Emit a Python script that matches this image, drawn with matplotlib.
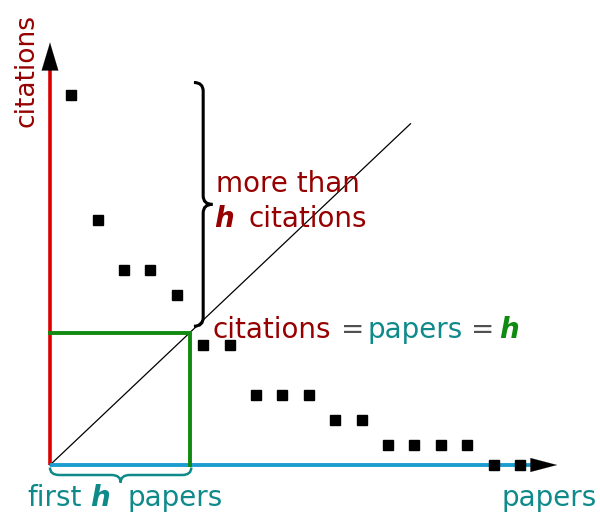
import numpy as np
import matplotlib
matplotlib.use("Agg")
import matplotlib.pyplot as plt
from matplotlib.path import Path
from matplotlib.patches import PathPatch

# ---- data (schematic h-index example) ----
paper_rank = list(range(1, 19))
citations = [15, 10, 8, 8, 7, 5, 5, 3, 3, 3, 2, 2, 1, 1, 1, 1, 0, 0]
h_value = 5
h_corner = 5.5          # where the diagonal crosses the sorted citation curve
axis_origin = 0.2       # axes start here in rank / citation units
x_axis_end = 19.4
y_axis_end = 17.1
diag_end = 13.85

DARKRED = "#960000"
TEAL = "#0f8a8a"
GREEN = "#108a10"
BLUE = "#1b9dd0"
RED = "#dd0000"
GRAY = "#505050"

W, H = 600, 514
fig = plt.figure(figsize=(W / 100, H / 100), dpi=100)
ax = fig.add_axes([0, 0, 1, 1])
X0, X1 = -1.693, 21.025
Y0, Y1 = -1.76, 18.8
ax.set_xlim(X0, X1)
ax.set_ylim(Y0, Y1)
ax.axis("off")


def px(x):
    return X0 + (X1 - X0) * x / W


def py(y):
    return Y1 - (Y1 - Y0) * y / H


# axes lines
ax.plot([axis_origin, axis_origin], [axis_origin, y_axis_end - 1.0], color=RED, lw=2.6,
        solid_capstyle="butt", zorder=2)
ax.plot([axis_origin, x_axis_end - 1.0], [axis_origin, axis_origin], color=BLUE, lw=2.8,
        solid_capstyle="butt", zorder=2)

# arrow heads (black)
ax.annotate("", xy=(axis_origin, y_axis_end), xytext=(axis_origin, y_axis_end - 1.5),
            arrowprops=dict(arrowstyle="-|>,head_length=2.0,head_width=0.6", color="black", lw=0.1,
                            shrinkA=0, shrinkB=0), zorder=4)
ax.annotate("", xy=(x_axis_end, axis_origin), xytext=(x_axis_end - 1.4, axis_origin),
            arrowprops=dict(arrowstyle="-|>,head_length=1.9,head_width=0.5", color="black", lw=0.1,
                            shrinkA=0, shrinkB=0), zorder=4)

# diagonal citations = papers
ax.plot([axis_origin, diag_end], [axis_origin, diag_end], color="black", lw=0.9, zorder=1)

# green h-square
ax.plot([axis_origin, h_corner, h_corner], [h_corner, h_corner, axis_origin], color=GREEN, lw=2.8,
        solid_joinstyle="miter", zorder=2)

# data points
pts_y = np.maximum(np.array(citations, dtype=float), axis_origin)
ax.plot(paper_rank, pts_y, ls="none", marker="s", ms=6.5, color="black", zorder=5)


def brace(x0, y0, x1, y1, depth, vertical=False, **kw):
    q = 0.35
    if not vertical:
        xm = (x0 + x1) / 2
        yb = y0 - depth / 2
        yt = y0 - depth
        verts = [(x0, y0), (x0, yb), (x0 + q, yb), (xm - q, yb), (xm, yb), (xm, yt),
                 (xm, yb), (xm + q, yb), (x1 - q, yb), (x1, yb), (x1, y1)]
    else:
        ym = (y0 + y1) / 2
        xb = x0 + depth / 2
        xt = x0 + depth
        verts = [(x0, y0), (xb, y0), (xb, y0 - q), (xb, ym + q), (xb, ym), (xt, ym),
                 (xb, ym), (xb, ym - q), (xb, y1 + q), (xb, y1), (x0, y1)]
    codes = [Path.MOVETO, Path.CURVE3, Path.CURVE3, Path.LINETO, Path.CURVE3, Path.CURVE3,
             Path.CURVE3, Path.CURVE3, Path.LINETO, Path.CURVE3, Path.CURVE3]
    ax.add_patch(PathPatch(Path(verts, codes), fill=False, **kw))


# brace over the top papers (more than h citations)
brace(5.65, 15.5, 5.65, 5.75, 0.7, vertical=True, color="black", lw=2.2, zorder=3)
# brace under the first h papers
brace(axis_origin, 0.1, h_corner + 0.05, 0.1, 0.6, color=TEAL, lw=1.8, zorder=3)

FS = 20
HI = dict(fontweight="bold", style="italic")


def t(xp, yp, s, color, **kw):
    ax.text(px(xp), py(yp), s, ha="left", va="baseline", color=color, fontsize=FS, **kw)


ax.text(px(27), py(70), "citations", rotation=90, ha="center", va="center", color=DARKRED, fontsize=19)

t(216, 192, "more than", DARKRED)
t(214, 227, "h", DARKRED, **HI)
t(248, 227, "citations", DARKRED)

t(212, 338, "citations", DARKRED)
t(341, 338, "=", GRAY)
t(367, 338, "papers", TEAL)
t(471, 338, "=", GRAY)
t(499, 338, "h", GREEN, **HI)

t(27, 506, "first", TEAL)
t(90, 506, "h", TEAL, **HI)
t(127, 506, "papers", TEAL)
t(502, 506, "papers", TEAL)

fig.savefig("out.png", dpi=100)
